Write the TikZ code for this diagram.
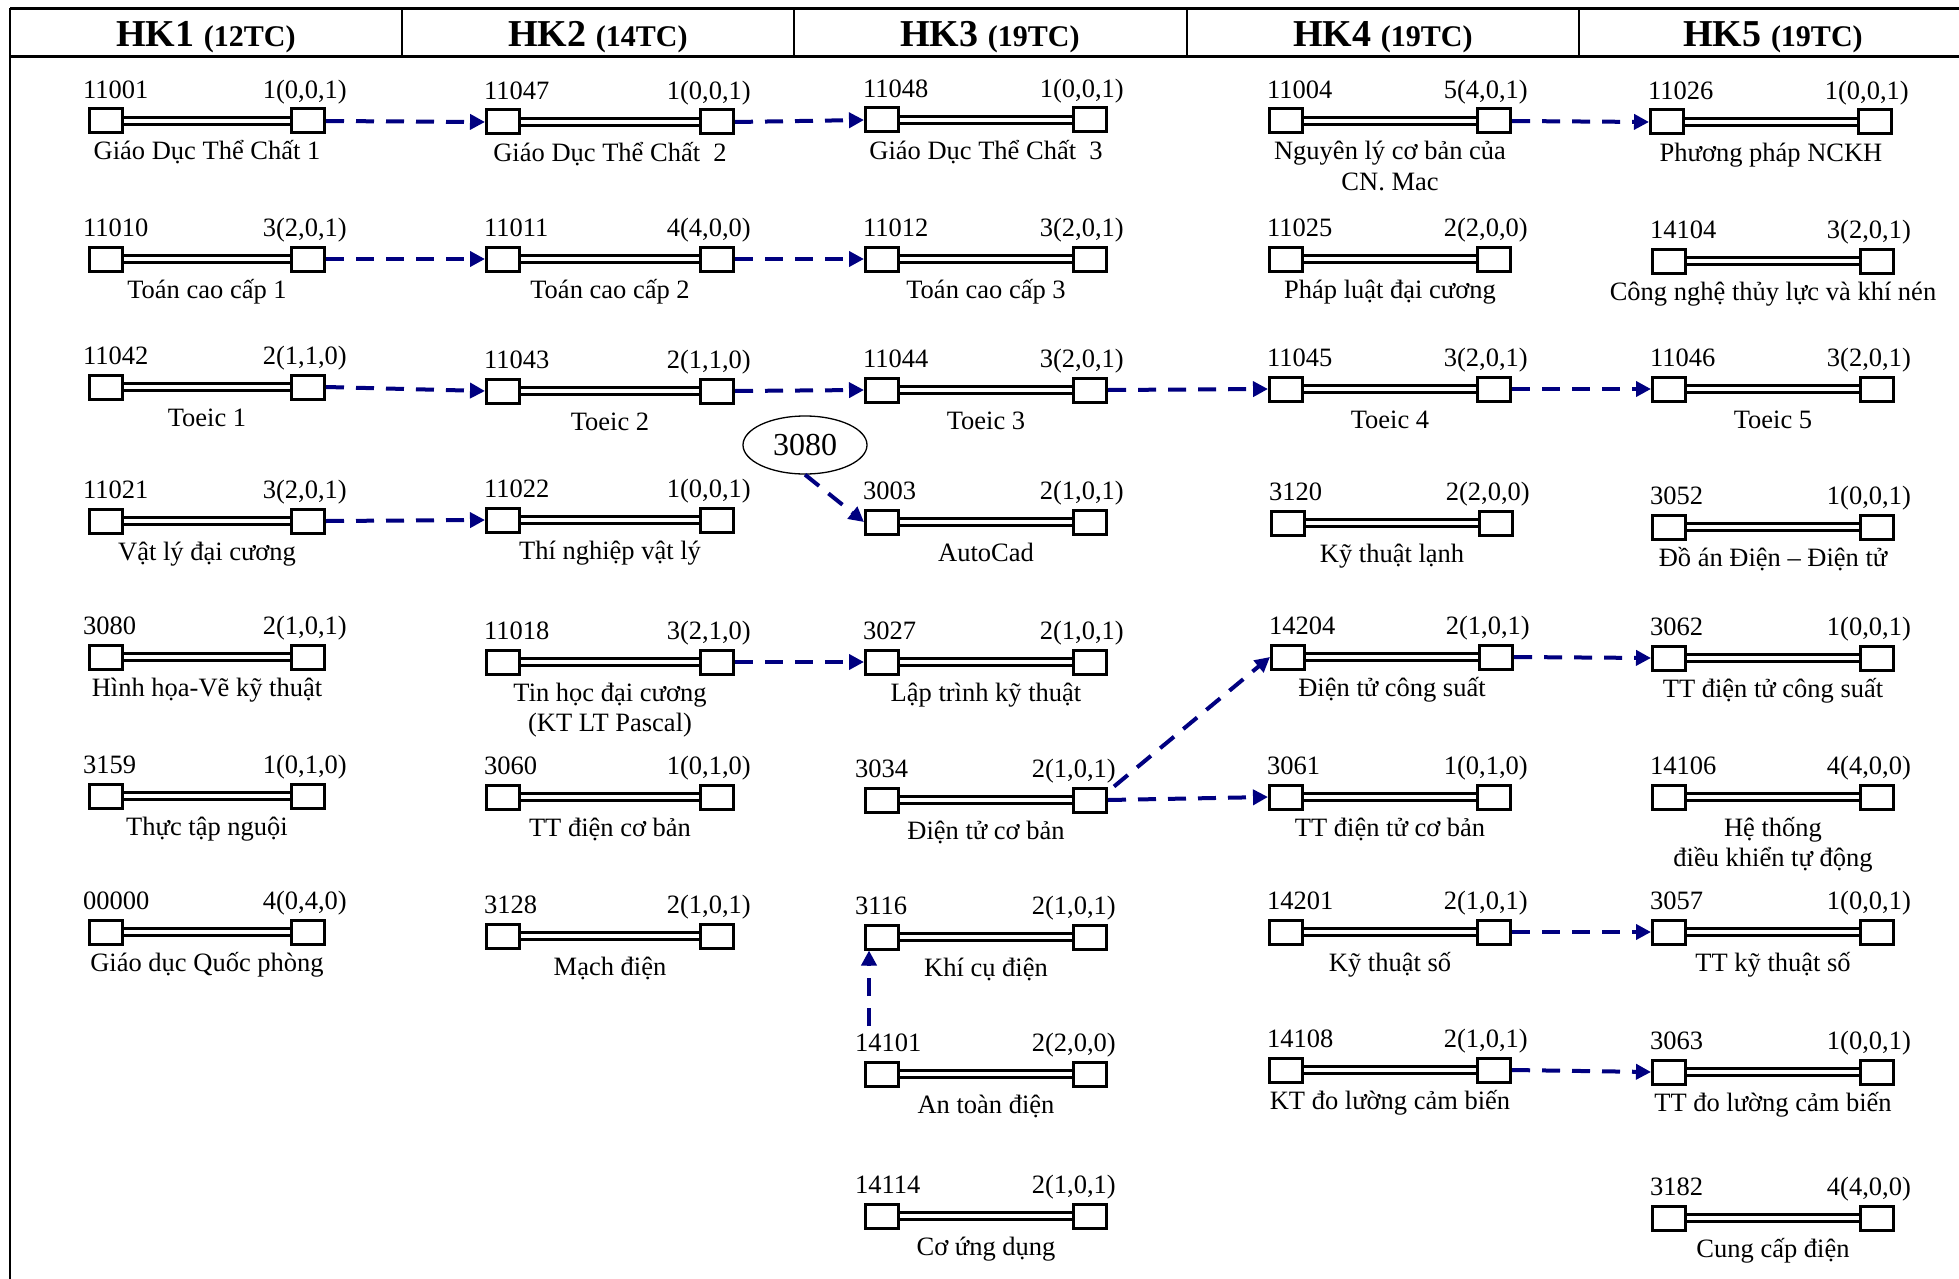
\documentclass[tikz,border=0pt]{standalone}
\usepackage{fontspec}
\setmainfont{Liberation Serif}
\usetikzlibrary{shapes.geometric,arrows.meta}
\definecolor{navyc}{RGB}{0,0,128}
\newcommand\lab{\fontsize{26.5}{30}\selectfont}
\newcommand\hkbig{\bfseries\fontsize{38}{40}\selectfont}
\newcommand\hksmall{\bfseries\fontsize{30}{32}\selectfont}
\newcommand\cs{0}
\newcommand\ks{16}
\tikzset{
  cbox/.style={draw, line width=3pt, fill=white, minimum width=33pt, minimum height=24pt, inner sep=0pt},
  cbar/.style={draw, line width=3pt, double=white, double distance=4pt},
  ccode/.style={anchor=base west, inner sep=0pt, font=\lab},
  ccred/.style={anchor=base east, inner sep=0pt, font=\lab},
  ctitle/.style={anchor=base, inner sep=0pt, font=\lab},
  hdr/.style={anchor=base, inner sep=0pt},
  arr/.style={draw=navyc, line width=4pt, dash pattern=on 18pt off 12pt, -{Triangle[length=15pt,width=15pt]}},
  grid/.style={line width=2.5pt},
}
% #1 name, #2 left x, #3 y, #4 width, #5 code, #6 credits, #7 title, #8 title line 2, #9 label shift
\newcommand\course[9]{%
  \node[cbox] (#1L) at (#2+18,#3) {};
  \node[cbox] (#1R) at (#2+#4-18,#3) {};
  \draw[cbar] (#1L.east) -- (#1R.west);
  \node[ccode] (#1c) at (#2+#9+\cs,#3-22.5) {#5};
  \node[ccred] (#1k) at (#2+#4+\ks+#9,#3-22.5) {#6};
  \node[ctitle] (#1t) at (#2+#4/2,#3+39) {#7};
  \if\relax\detokenize{#8}\relax\else\node[ctitle] (#1u) at (#2+#4/2,#3+69) {#8};\fi
}
\begin{document}
\begin{tikzpicture}[x=1pt,y=-1pt]
\useasboundingbox (0,0) rectangle (1959,1279);
% frame
\draw[grid, line width=3pt] (10,9) -- (1959,9);
\draw[grid, line width=3pt] (10,57) -- (1959,57);
\draw[grid, line width=2pt] (10,8) -- (10,1279);
\foreach \sx in {402,794,1187,1579} \draw[grid, line width=2pt] (\sx,9) -- (\sx,57);
\node[hdr] (h1) at (206,47) {\hkbig HK1 \hksmall(12TC)};
\node[hdr] (h2) at (598,47) {\hkbig HK2 \hksmall(14TC)};
\node[hdr] (h3) at (990,47) {\hkbig HK3 \hksmall(19TC)};
\node[hdr] (h4) at (1383,47) {\hkbig HK4 \hksmall(19TC)};
\node[hdr] (h5) at (1773,47) {\hkbig HK5 \hksmall(19TC)};
% column 1
\renewcommand\cs{-5}\renewcommand\ks{21}
\course{a1}{88}{121}{238}{11001}{1(0,0,1)}{Giáo Dục Thể Chất 1}{}{0}
\course{a2}{88}{259}{238}{11010}{3(2,0,1)}{Toán cao cấp 1}{}{0}
\course{a3}{88}{387}{238}{11042}{2(1,1,0)}{Toeic 1}{}{0}
\course{a4}{88}{521}{238}{11021}{3(2,0,1)}{Vật lý đại cương}{}{0}
\course{a5}{88}{657}{238}{3080}{2(1,0,1)}{Hình họa-Vẽ kỹ thuật}{}{0}
\course{a6}{88}{796}{238}{3159}{1(0,1,0)}{Thực tập nguội}{}{0}
\course{a7}{88}{932}{238}{00000}{4(0,4,0)}{Giáo dục Quốc phòng}{}{0}
\renewcommand\cs{-1}\renewcommand\ks{16}
% column 2
\course{b1}{485}{122}{250}{11047}{1(0,0,1)}{Giáo Dục Thể Chất\ \ 2}{}{0}
\course{b2}{485}{259}{250}{11011}{4(4,0,0)}{Toán cao cấp 2}{}{0}
\course{b3}{485}{391}{250}{11043}{2(1,1,0)}{Toeic 2}{}{0}
\course{b4}{485}{520}{250}{11022}{1(0,0,1)}{Thí nghiệp vật lý}{}{0}
\course{b5}{485}{662}{250}{11018}{3(2,1,0)}{Tin học đại cương}{(KT LT Pascal)}{0}
\course{b6}{485}{797}{250}{3060}{1(0,1,0)}{TT điện cơ bản}{}{0}
\course{b7}{485}{936}{250}{3128}{2(1,0,1)}{Mạch điện}{}{0}
% column 3
\course{c1}{864}{120}{244}{11048}{1(0,0,1)}{Giáo Dục Thể Chất\ \ 3}{}{0}
\course{c2}{864}{259}{244}{11012}{3(2,0,1)}{Toán cao cấp 3}{}{0}
\course{c3}{864}{390}{244}{11044}{3(2,0,1)}{Toeic 3}{}{0}
\course{c4}{864}{522}{244}{3003}{2(1,0,1)}{AutoCad}{}{0}
\course{c5}{864}{662}{244}{3027}{2(1,0,1)}{Lập trình kỹ thuật}{}{0}
\course{c6}{864}{800}{244}{3034}{2(1,0,1)}{Điện tử cơ bản}{}{-8}
\course{c7}{864}{937}{244}{3116}{2(1,0,1)}{Khí cụ điện}{}{-8}
\course{c8}{864}{1074}{244}{14101}{2(2,0,0)}{An toàn điện}{}{-8}
\course{c9}{864}{1216}{244}{14114}{2(1,0,1)}{Cơ ứng dụng}{}{-8}
% column 4
\course{d1}{1268}{121}{244}{11004}{5(4,0,1)}{Nguyên lý cơ bản của}{CN. Mac}{0}
\course{d2}{1268}{259}{244}{11025}{2(2,0,0)}{Pháp luật đại cương}{}{0}
\course{d3}{1268}{389}{244}{11045}{3(2,0,1)}{Toeic 4}{}{0}
\course{d4}{1270}{523}{244}{3120}{2(2,0,0)}{Kỹ thuật lạnh}{}{0}
\course{d5}{1270}{657}{244}{14204}{2(1,0,1)}{Điện tử công suất}{}{0}
\course{d6}{1268}{797}{244}{3061}{1(0,1,0)}{TT điện tử cơ bản}{}{0}
\course{d7}{1268}{932}{244}{14201}{2(1,0,1)}{Kỹ thuật số}{}{0}
\course{d8}{1268}{1070}{244}{14108}{2(1,0,1)}{KT đo lường cảm biến}{}{0}
% column 5
\course{e1}{1649}{122}{244}{11026}{1(0,0,1)}{Phương pháp NCKH}{}{0}
\course{e2}{1651}{261}{244}{14104}{3(2,0,1)}{Công nghệ thủy lực và khí nén}{}{0}
\course{e3}{1651}{389}{244}{11046}{3(2,0,1)}{Toeic 5}{}{0}
\course{e4}{1651}{527}{244}{3052}{1(0,0,1)}{Đồ án Điện – Điện tử}{}{0}
\course{e5}{1651}{658}{244}{3062}{1(0,0,1)}{TT điện tử công suất}{}{0}
\course{e6}{1651}{797}{244}{14106}{4(4,0,0)}{Hệ thống}{điều khiển tự động}{0}
\course{e7}{1651}{932}{244}{3057}{1(0,0,1)}{TT kỹ thuật số}{}{0}
\course{e8}{1651}{1072}{244}{3063}{1(0,0,1)}{TT đo lường cảm biến}{}{0}
\course{e9}{1651}{1218}{244}{3182}{4(4,0,0)}{Cung cấp điện}{}{0}
% ellipse
\node[ellipse, draw, line width=1.3pt, minimum width=124pt, minimum height=58pt, inner sep=0pt, font=\fontsize{32}{32}\selectfont] (el) at (805,445) {3080};
% arrows
\draw[arr] (a1R.east) -- (b1L.west);
\draw[arr] (a2R.east) -- (b2L.west);
\draw[arr] (a3R.east) -- (b3L.west);
\draw[arr] (a4R.east) -- (b4L.west);
\draw[arr] (b1R.east) -- (c1L.west);
\draw[arr] (b2R.east) -- (c2L.west);
\draw[arr] (b3R.east) -- (c3L.west);
\draw[arr] (b5R.east) -- (c5L.west);
\draw[arr] (c3R.east) -- (d3L.west);
\draw[arr] ([xshift=6pt]c6R.north east) -- (d5L.west);
\draw[arr] (c6R.east) -- (d6L.west);
\draw[arr] (d1R.east) -- (e1L.west);
\draw[arr] (d3R.east) -- (e3L.west);
\draw[arr] (d5R.east) -- (e5L.west);
\draw[arr] (d7R.east) -- (e7L.west);
\draw[arr] (d8R.east) -- (e8L.west);
\draw[arr] (el.south) -- (c4L.west);
\coordinate (v0) at (869,1026);
\draw[arr] (v0) -- (v0 |- c7L.south);
\end{tikzpicture}
\end{document}
